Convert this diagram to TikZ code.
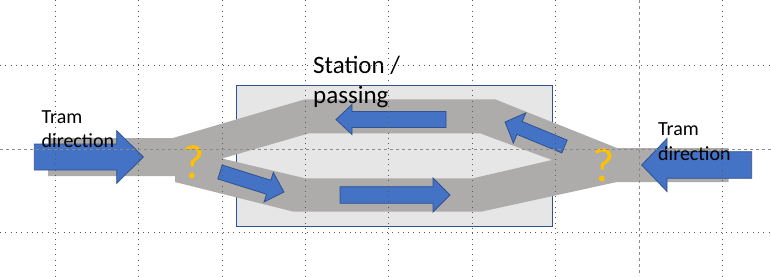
\documentclass[tikz,border=0pt]{standalone}
\usepackage{fontspec}
\setmainfont{Carlito}
\definecolor{trackgray}{HTML}{AEABAB}
\definecolor{stationfill}{HTML}{E7E6E6}
\definecolor{stationedge}{HTML}{2F528F}
\definecolor{arrowblue}{HTML}{4472C4}
\definecolor{arrowedge}{HTML}{2F528F}
\definecolor{qgold}{HTML}{FFC000}
\tikzset{
  track/.style={fill=trackgray, draw=none},
  station/.style={fill=stationfill, draw=stationedge, line width=0.8pt},
  blockarrow/.style={fill=arrowblue, draw=arrowedge, line width=0.8pt, line join=miter},
  qmark/.style={text=qgold, inner sep=0pt, font=\fontsize{48}{48}\selectfont},
  lbl/.style={inner sep=0pt, align=left, anchor=base west},
  griddot/.style={black!65, line width=0.7pt, dash pattern=on 0.7pt off 4.6pt},
  guide/.style={black!45, line width=0.6pt, dash pattern=on 3pt off 3pt},
}
% tail x, tail y, visual angle, length, body width, head width, head length
\newcommand{\myblockarrow}[7]{%
  \begin{scope}[shift={(#1,#2)}, rotate=#3]
    \path[blockarrow] (0,{#5/2}) -- ({#4-#7},{#5/2}) -- ({#4-#7},{#6/2}) -- (#4,0)
      -- ({#4-#7},{-#6/2}) -- ({#4-#7},{-#5/2}) -- (0,{-#5/2}) -- cycle;
  \end{scope}}
\begin{document}
\begin{tikzpicture}[x=1pt, y=-1pt]
\useasboundingbox (0,0) rectangle (771,276);
% station box
\path[station] (236.5,85) rectangle (552,226.7);
% track with passing loop
\path[track, even odd rule]
  (48,138) -- (173,138) -- (305,99.3) -- (495,99.3) -- (617,148) -- (728.5,148)
  -- (728.5,182) -- (617,182) -- (482,211.5) -- (293,211.5) -- (175,182)
  -- (175,176) -- (48,176) -- cycle
  (222,158.5) -- (309,133.3) -- (480,133.3) -- (552,160) -- (473,178.3)
  -- (305,178.3) -- cycle;
% arrows
\myblockarrow{34.3}{157}{0}{109}{26}{52.7}{26.6}
\myblockarrow{751.7}{165}{180}{110}{26.6}{53}{25.3}
\myblockarrow{220}{172}{-17.35}{67}{14.6}{31}{16}
\myblockarrow{340}{195}{0}{110}{16.6}{34}{17}
\myblockarrow{446}{119.5}{180}{110}{16}{30}{16}
\myblockarrow{564.5}{146.5}{157.6}{64.3}{13.9}{32.7}{15.7}
% question marks
\node[qmark] (q1) at (193.5,162) {?};
\node[qmark] (q2) at (603.5,165.5) {?};
% labels (anchor is the baseline of the last line)
\node[lbl, font=\fontsize{20}{24.5}\selectfont] (tl) at (41.5,147.8) {Tram\\direction};
\node[lbl, font=\fontsize{20}{24.5}\selectfont] (tr) at (658,160.3) {Tram\\direction};
\node[lbl, font=\fontsize{25}{30.3}\selectfont] (st) at (313,103.3) {Station /\\passing};
% grid and guides
\foreach \x in {55.5,138.8,222.1,305.4,388.7,472,555.3,721.9}
  \draw[griddot] (\x,0) -- (\x,276);
\foreach \y in {65.3,231.9}
  \draw[griddot] (0,\y) -- (771,\y);
\draw[guide] (639.2,0) -- (639.2,276);
\draw[guide] (0,149.3) -- (771,149.3);
\end{tikzpicture}
\end{document}
